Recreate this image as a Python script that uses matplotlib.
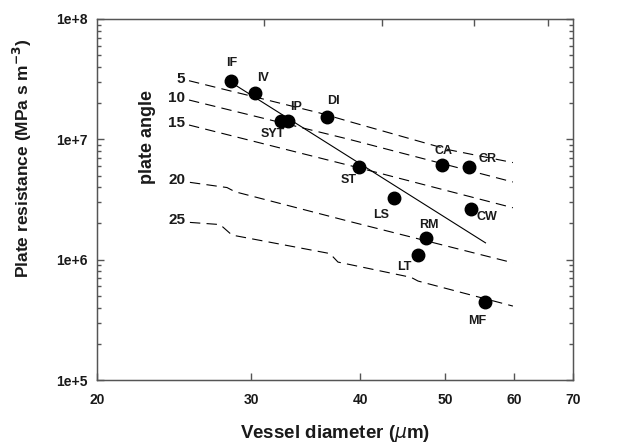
import matplotlib
matplotlib.use("Agg")
import matplotlib.pyplot as plt
import numpy as np

plt.rcParams['font.family'] = ['Liberation Sans', 'DejaVu Sans']
plt.rcParams['lines.scale_dashes'] = False

# ---- data ----
species = ["IF", "IV", "SYT", "IP", "DI", "ST", "LS", "CA", "CR", "CW", "RM", "LT", "MF"]
diameter = [28.46, 30.33, 32.5, 33.06, 36.6, 39.9, 43.7, 49.6, 53.3, 53.5, 47.6, 46.5, 55.6]
resistance = [3.07e7, 2.43e7, 1.43e7, 1.43e7, 1.54e7, 5.92e6, 3.27e6, 6.15e6, 5.85e6, 2.65e6, 1.52e6, 1.09e6, 4.42e5]

fit_x = [28.53, 55.6]
fit_y = [2.94e7, 1.38e6]

angles = ["5", "10", "15", "20", "25"]
angle_x = {
    "5": [25.48, 35.96, 38.92, 50.64, 59.76],
    "10": [25.48, 38.92, 49.59, 59.76],
    "15": [25.48, 39.95, 59.76],
    "20": [25.54, 28.16, 28.76, 38.92, 59.76],
    "25": [25.54, 27.65, 28.53, 36.92, 37.71, 45.71, 46.56, 59.76],
}
angle_y = {
    "5": [3.07e7, 1.654e7, 1.401e7, 8.15e6, 6.41e6],
    "10": [2.122e7, 9.96e6, 6.29e6, 4.42e6],
    "15": [1.315e7, 5.77e6, 2.70e6],
    "20": [4.39e6, 3.975e6, 3.667e6, 2.073e6, 9.42e5],
    "25": [2.04e6, 1.958e6, 1.601e6, 1.124e6, 9.55e5, 7.13e5, 6.64e5, 4.115e5],
}

xticks = [20, 30, 40, 50, 60, 70]
top_ticks = [31.0, 42.3, 54.0, 65.6]
yticks = [1e5, 1e6, 1e7, 1e8]
ytick_labels = ["1e+5", "1e+6", "1e+7", "1e+8"]

# ---- figure ----
W, H = 622, 442
fig = plt.figure(figsize=(W / 100, H / 100), dpi=100)
ax = fig.add_axes([97 / W, 1 - 380 / H, 476 / W, 361 / H])
ax.set_xscale('log')
ax.set_yscale('log')
ax.set_xlim(20, 70)
ax.set_ylim(1e5, 1e8)

txtc = '#1a1a1a'
# angle curves
for a in angles:
    ax.plot(angle_x[a], angle_y[a], color='black', lw=0.8, linestyle=(0, (7.5, 4.5)))
    ax.annotate(a, (angle_x[a][0], angle_y[a][0]), xytext=(-4, 2), textcoords='offset pixels',
                ha='right', va='center', fontsize=11, fontweight='bold', color=txtc)

# regression line
ax.plot(fit_x, fit_y, color='black', lw=0.8)

# points
ax.plot(diameter, resistance, 'o', color='black', markersize=9, zorder=5)

label_off = {
    "IF": (1, 17.7), "IV": (7.4, 15.3), "IP": (7.7, 13.4), "SYT": (-8.4, -13.6),
    "DI": (7.3, 16), "CA": (1, 13.7), "CR": (18, 8), "ST": (-11, -13.3),
    "LS": (-13, -17.3), "CW": (15.7, -8.6), "RM": (2, 12.7), "LT": (-13, -12.3),
    "MF": (-8, -18.7),
}
for s, xv, yv in zip(species, diameter, resistance):
    dx, dy = label_off[s]
    ax.annotate(s, (xv, yv), xytext=(dx, dy), textcoords='offset pixels',
                ha='center', va='center', fontsize=9, fontweight='bold', color=txtc)

ax.text(148 / W, 1 - 137 / H, "plate angle", transform=fig.transFigure, rotation=90,
        ha='center', va='center', fontsize=13, fontweight='bold', color=txtc)

# axes styling
spc = '#555555'
for sp in ax.spines.values():
    sp.set_color(spc)
    sp.set_linewidth(1.0)

ax.set_xticks(xticks)
ax.set_xticklabels([str(v) for v in xticks])
ax.xaxis.set_minor_locator(matplotlib.ticker.NullLocator())
ax.set_yticks(yticks)
ax.set_yticklabels(ytick_labels)
ax.yaxis.set_minor_locator(matplotlib.ticker.LogLocator(base=10, subs=np.arange(2, 10)))
ax.yaxis.set_minor_formatter(matplotlib.ticker.NullFormatter())
ax.tick_params(axis='both', which='major', direction='in', length=5, width=1, color=spc,
               labelsize=10, labelcolor=txtc)
ax.tick_params(axis='y', which='major', right=True, pad=7)
ax.tick_params(axis='y', which='minor', direction='in', length=3, width=1, color=spc, right=True)
ax.tick_params(axis='x', which='major', pad=9, top=False)
for lab in ax.get_xticklabels() + ax.get_yticklabels():
    lab.set_fontweight('bold')

ax2 = ax.twiny()
ax2.set_xscale('log')
ax2.set_xlim(20, 70)
ax2.set_xticks(top_ticks)
ax2.set_xticklabels([])
ax2.xaxis.set_minor_locator(matplotlib.ticker.NullLocator())
ax2.tick_params(axis='x', which='major', direction='in', length=5, width=1, color=spc)
for sp in ax2.spines.values():
    sp.set_color(spc)

fig.text(335 / W, 1 - 433 / H, r"Vessel diameter ($\mu$m)", ha='center', va='center',
         fontsize=13.5, fontweight='bold', color=txtc)
fig.text(22 / W, 1 - 158 / H, r"Plate resistance (MPa s m$^{\mathbf{-3}}$)", rotation=90,
         ha='center', va='center', fontsize=12.5, fontweight='bold', color=txtc)

fig.savefig("out.png", dpi=100)
